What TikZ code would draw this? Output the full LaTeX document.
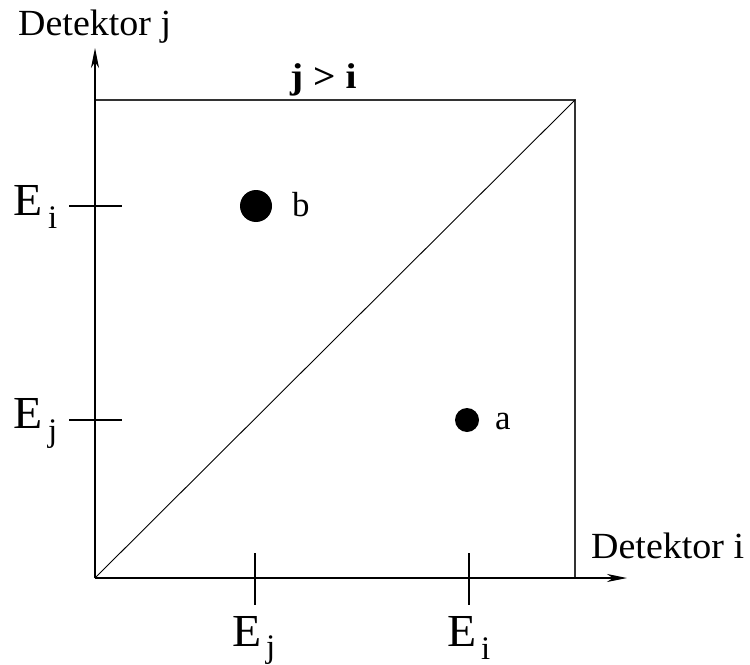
\documentclass[tikz,border=0pt]{standalone}
\usepackage{fontspec}
\setmainfont{Liberation Serif}
\usepackage{graphicx}
\usetikzlibrary{arrows.meta}
\newcommand\wide[2][1.06]{\scalebox{#1}[1]{#2}}
\begin{document}
\begin{tikzpicture}[x=1bp,y=-1bp,
  lbl/.style={inner sep=0pt, anchor=base west},
  big/.style={lbl, font=\fontsize{37}{39}\selectfont},
  elbl/.style={lbl, font=\fontsize{46}{48}\selectfont},
  sublbl/.style={lbl, font=\fontsize{33}{35}\selectfont},
  ptlbl/.style={lbl, font=\fontsize{35}{37}\selectfont},
  axis/.style={line width=1.1bp, -{Stealth[length=20bp,width=8bp,inset=6bp]}},
  frame/.style={line width=1.1bp, draw=black!80},
  tick/.style={line width=1.1bp},
  dot/.style={circle, fill=black, inner sep=0pt}]
\useasboundingbox (0,0) rectangle (750,665);
% coordinates
\coordinate (O) at (95,578);
\coordinate (TL) at (95,100);
\coordinate (TR) at (575,100);
\coordinate (BR) at (575,578);
\coordinate (xend) at (627,578);
\coordinate (yend) at (95,48);
% frame and diagonal
\draw[frame] (O) -- (TL) -- (TR) -- (BR);
\draw[line width=0.9bp] (O) -- (TR);
% axes
\draw[axis] (O) -- (xend);
\draw[axis] (O) -- (yend);
% ticks
\coordinate (yt1a) at (69,206); \coordinate (yt1b) at (122,206);
\coordinate (yt2a) at (69,420); \coordinate (yt2b) at (122,420);
\coordinate (xt1a) at (255,553); \coordinate (xt1b) at (255,605);
\coordinate (xt2a) at (469,553); \coordinate (xt2b) at (469,605);
\draw[tick] (yt1a) -- (yt1b);
\draw[tick] (yt2a) -- (yt2b);
\draw[tick] (xt1a) -- (xt1b);
\draw[tick] (xt2a) -- (xt2b);
% axis labels
\node[big] (dj) at (18,36) {\wide[1.03]{Detektor j}};
\node[big] (di) at (591,558) {\wide[1.03]{Detektor i}};
\node[lbl, font=\fontsize{36}{38}\selectfont\bfseries] (ji) at (290,89) {\wide[1.1]{j > i}};
% tick labels
\node[elbl] (Ei1) at (13,215) {\wide[1.04]{E}};
\node[sublbl] (Ei1s) at (48,228) {i};
\node[elbl] (Ej1) at (13,428) {\wide[1.04]{E}};
\node[sublbl] (Ej1s) at (48,441) {j};
\node[elbl] (Ej2) at (232,646) {\wide[1.04]{E}};
\node[sublbl] (Ej2s) at (266,657) {j};
\node[elbl] (Ei2) at (447,646) {\wide[1.04]{E}};
\node[sublbl] (Ei2s) at (481,659) {i};
% points
\node[dot, minimum size=32bp] (b) at (256,206) {};
\node[dot, minimum size=24bp] (a) at (467,420) {};
\node[ptlbl] (bl) at (292,216) {b};
\node[ptlbl] (al) at (495,429) {a};
\end{tikzpicture}
\end{document}
